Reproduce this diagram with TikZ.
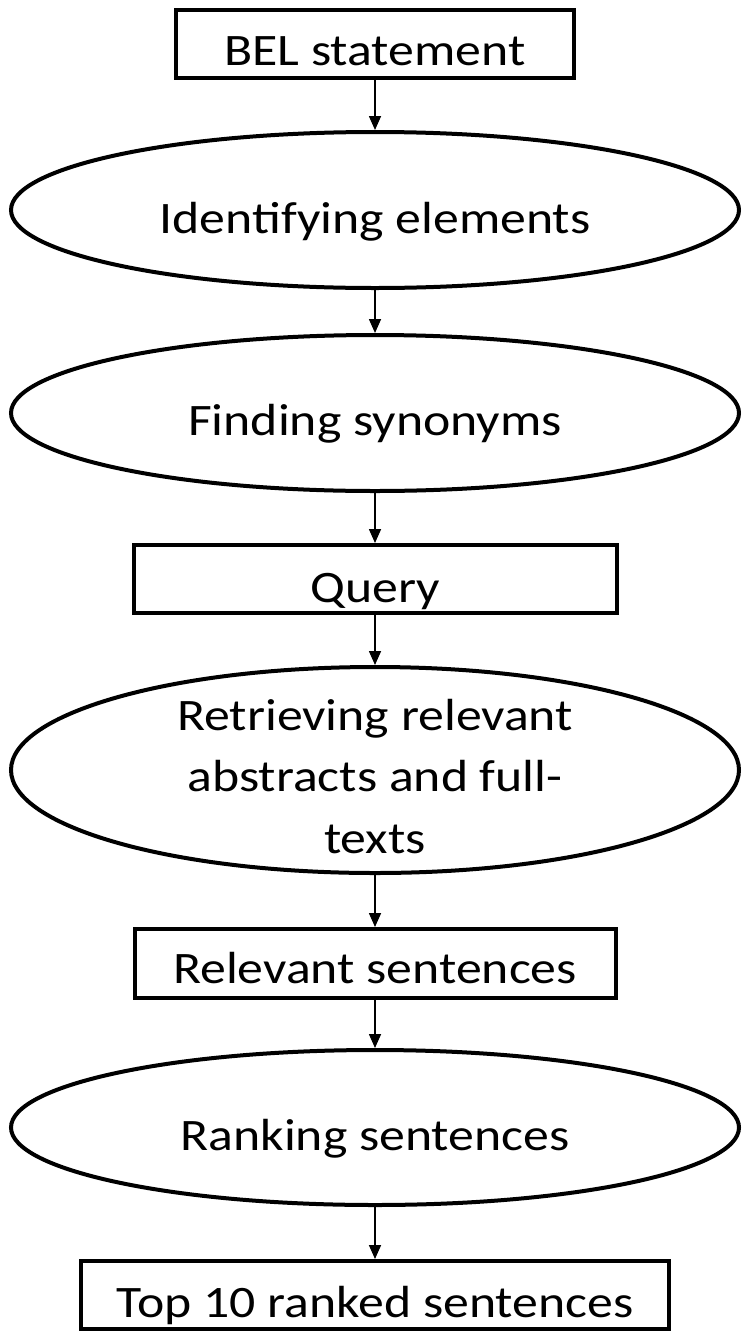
\documentclass[tikz,border=0pt]{standalone}
\usepackage{fontspec}
\setmainfont{Carlito}
\usepackage{graphicx}
\usetikzlibrary{shapes.geometric,arrows.meta}
\newcommand{\lbl}[1]{\scalebox{1.15}[1]{#1}}
\begin{document}
\begin{tikzpicture}[x=1pt,y=-1pt,
 boxnode/.style={draw,line width=4pt,rectangle,inner sep=0pt},
 ellnode/.style={draw,line width=4pt,ellipse,inner sep=0pt,minimum width=728pt},
 txt/.style={anchor=base,inner sep=0pt,font=\fontsize{45}{61.5}\selectfont},
 arr/.style={line width=1.6pt,-{Triangle[length=14pt,width=12pt]}}]
\useasboundingbox (0,0) rectangle (750,1339);
\fill[white] (0,0) rectangle (750,1339);
% shapes
\node[boxnode,minimum width=398pt,minimum height=68pt] (b1) at (375,44) {};
\node[ellnode,minimum height=156pt] (e1) at (375,210) {};
\node[ellnode,minimum height=156pt] (e2) at (375,413) {};
\node[boxnode,minimum width=483pt,minimum height=68pt] (q) at (375,579) {};
\node[ellnode,minimum height=206pt] (e3) at (375,770) {};
\node[boxnode,minimum width=481pt,minimum height=69pt] (rs) at (375,963.5) {};
\node[ellnode,minimum height=155pt] (e4) at (375,1127.5) {};
\node[boxnode,minimum width=588pt,minimum height=68pt] (t10) at (375,1295) {};
% labels
\node[txt] (b1t) at (375,65) {\lbl{BEL statement}};
\node[txt] (e1t) at (375,233) {\lbl{Identifying elements}};
\node[txt] (e2t) at (375,435) {\lbl{Finding synonyms}};
\node[txt] (qt) at (375,602) {\lbl{Query}};
\node[txt] (e3t) at (375,730) {\lbl{\begin{tabular}[t]{@{}c@{}}Retrieving relevant\\abstracts and full-\\texts\end{tabular}}};
\node[txt] (rst) at (375,983) {\lbl{Relevant sentences}};
\node[txt] (e4t) at (375,1150) {\lbl{Ranking sentences}};
\node[txt] (t10t) at (375,1317) {\lbl{Top 10 ranked sentences}};
% connectors
\draw[arr] (b1.south) -- (e1.north);
\draw[arr] (e1.south) -- (e2.north);
\draw[arr] (e2.south) -- (q.north);
\draw[arr] (q.south) -- (e3.north);
\draw[arr] (e3.south) -- (rs.north);
\draw[arr] (rs.south) -- (e4.north);
\draw[arr] (e4.south) -- (t10.north);
\end{tikzpicture}
\end{document}
